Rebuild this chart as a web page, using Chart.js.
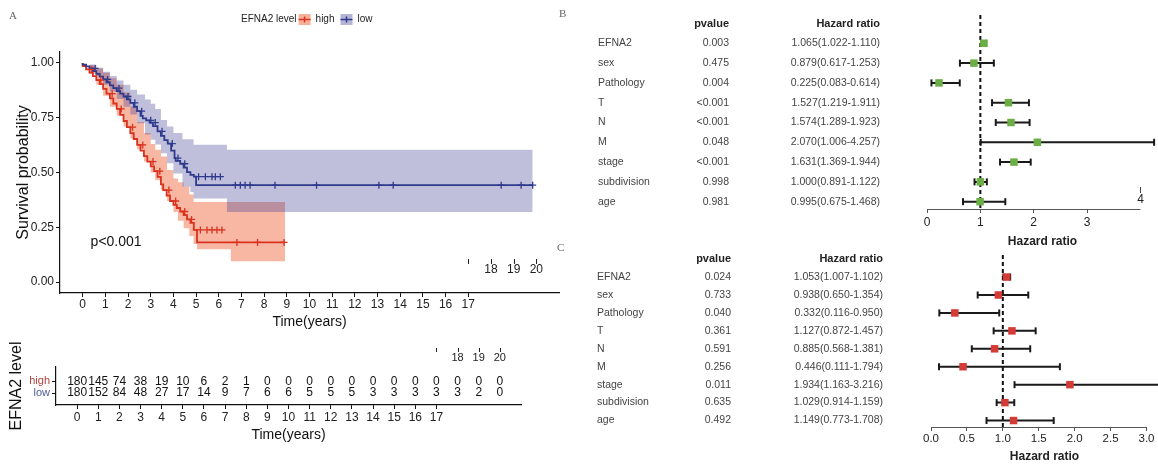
<!DOCTYPE html>
<html>
<head>
<meta charset="utf-8">
<title>EFNA2 survival and Cox regression</title>
<script src="https://cdn.jsdelivr.net/npm/chart.js@4.4.1/dist/chart.umd.min.js"></script>
<style>
  html, body { margin:0; padding:0; background:#fff; }
  body { width:1158px; height:464px; position:relative; overflow:hidden; }
  .pane { position:absolute; }
  .pane canvas { display:block; }
  .tag { position:absolute; font-family:"Liberation Serif","DejaVu Serif",serif; font-size:11px; color:#666; line-height:1; }
</style>
</head>
<body>
<div class="pane" style="left:0;top:0;width:570px;height:335px"><canvas id="km"></canvas></div>
<div class="pane" style="left:0;top:335px;width:570px;height:129px"><canvas id="risk"></canvas></div>
<div class="pane" style="left:560px;top:0;width:598px;height:250px"><canvas id="forestB"></canvas></div>
<div class="pane" style="left:560px;top:250px;width:598px;height:214px"><canvas id="forestC"></canvas></div>
<div class="tag" style="left:9px;top:10px">A</div>
<div class="tag" style="left:559px;top:8px">B</div>
<div class="tag" style="left:557px;top:242px">C</div>
<script>
// ================= DATA =================
// Kaplan-Meier step points [time (years), survival]
const HIGH_CURVE = [[0,1],[0.15,0.986],[0.3,0.971],[0.45,0.956],[0.6,0.94],[0.75,0.922],[0.9,0.903],[1.05,0.882],[1.2,0.86],[1.35,0.838],[1.5,0.815],[1.65,0.79],[1.8,0.763],[1.95,0.735],[2.1,0.707],[2.25,0.68],[2.4,0.653],[2.55,0.626],[2.7,0.6],[2.85,0.575],[3.0,0.55],[3.15,0.528],[3.3,0.506],[3.45,0.48],[3.55,0.446],[3.7,0.42],[3.85,0.395],[4.0,0.37],[4.15,0.352],[4.3,0.338],[4.45,0.322],[4.6,0.305],[4.75,0.286],[4.9,0.27],[5.04,0.238],[6.53,0.181],[8.92,0.181]];
const LOW_CURVE = [[0,1],[0.15,0.992],[0.3,0.984],[0.45,0.975],[0.6,0.963],[0.75,0.95],[0.9,0.938],[1.05,0.925],[1.2,0.912],[1.35,0.898],[1.5,0.885],[1.65,0.872],[1.8,0.86],[1.95,0.847],[2.1,0.834],[2.25,0.818],[2.4,0.8],[2.55,0.78],[2.65,0.758],[2.8,0.747],[2.95,0.738],[3.1,0.728],[3.3,0.712],[3.45,0.688],[3.6,0.667],[3.75,0.648],[3.9,0.632],[4.05,0.6],[4.1,0.566],[4.3,0.553],[4.45,0.54],[4.6,0.522],[4.75,0.502],[4.9,0.489],[5.0,0.481],[6.36,0.442],[19.84,0.442]];
// censored observations [time, survival]
const HIGH_CENSOR = [[0.4,0.971],[0.8,0.922],[1.3,0.86],[1.7,0.79],[2.2,0.707],[2.65,0.626],[3.1,0.55],[3.4,0.506],[3.8,0.42],[4.1,0.37],[4.5,0.322],[4.8,0.286],[5.19,0.238],[5.48,0.238],[5.7,0.238],[5.92,0.238],[6.14,0.238],[6.8,0.181],[7.71,0.181],[8.88,0.181]];
const LOW_CENSOR = [[0.55,0.975],[1.1,0.925],[1.6,0.885],[2.0,0.847],[2.3,0.818],[2.6,0.78],[3.0,0.738],[3.2,0.728],[3.5,0.688],[3.95,0.632],[4.2,0.566],[4.5,0.54],[5.11,0.481],[5.41,0.481],[5.7,0.481],[5.85,0.481],[6.07,0.481],[6.73,0.442],[6.95,0.442],[7.16,0.442],[7.38,0.442],[8.48,0.442],[10.31,0.442],[13.06,0.442],[13.69,0.442],[18.45,0.442],[19.33,0.442],[19.84,0.442]];
// 95% confidence bands (step values, shared times per group)
const HIGH_BAND_T  = [0,0.3,0.6,0.9,1.2,1.5,1.8,2.1,2.4,2.7,3.0,3.2,3.45,3.72,4.0,4.2,4.45,4.7,4.89,5.04,6.53,8.92];
const HIGH_BAND_UP = [1,0.99,0.975,0.955,0.93,0.9,0.865,0.8,0.73,0.68,0.63,0.604,0.573,0.511,0.473,0.455,0.435,0.4,0.365,0.365,0.365,0.365];
const HIGH_BAND_LO = [1,0.95,0.9,0.85,0.8,0.76,0.71,0.655,0.605,0.55,0.5,0.465,0.42,0.37,0.32,0.28,0.245,0.21,0.174,0.15,0.095,0.095];
const LOW_BAND_T   = [0,0.3,0.6,0.9,1.2,1.5,1.8,2.1,2.4,2.75,3.0,3.2,3.45,3.72,4.0,4.4,4.75,4.89,6.36,19.84];
const LOW_BAND_UP  = [1,0.993,0.978,0.96,0.94,0.92,0.9,0.878,0.856,0.833,0.814,0.79,0.74,0.71,0.68,0.652,0.652,0.627,0.604,0.604];
const LOW_BAND_LO  = [1,0.97,0.94,0.9,0.87,0.835,0.8,0.765,0.725,0.674,0.65,0.628,0.588,0.542,0.496,0.435,0.411,0.381,0.32,0.32];

const KM_X_TICKS = [0,1,2,3,4,5,6,7,8,9,10,11,12,13,14,15,16,17];
const KM_X_TICKS_SHIFTED = [18,19,20];
const SHIFTED_MARKS = [17,18,19,20];
const KM_Y_TICKS = [0,0.25,0.5,0.75,1];
const P_LABEL = 'p<0.001';
const LEGEND_TITLE = 'EFNA2 level';
const GROUPS = ['high','low'];

// numbers at risk
const RISK_TIMES = [0,1,2,3,4,5,6,7,8,9,10,11,12,13,14,15,16,17,18,19,20];
const RISK_HIGH  = [180,145,74,38,19,10,6,2,1,0,0,0,0,0,0,0,0,0,0,0,0];
const RISK_LOW   = [180,152,84,48,27,17,14,9,7,6,6,5,5,5,3,3,3,3,3,2,0];

// Cox regression
const FOREST_VARS = ['EFNA2','sex','Pathology','T','N','M','stage','subdivision','age'];
const B_PVAL = ['0.003','0.475','0.004','<0.001','<0.001','0.048','<0.001','0.998','0.981'];
const B_HR   = [1.065,0.879,0.225,1.527,1.574,2.070,1.631,1.000,0.995];
const B_LO   = [1.022,0.617,0.083,1.219,1.289,1.006,1.369,0.891,0.675];
const B_HI   = [1.110,1.253,0.614,1.911,1.923,4.257,1.944,1.122,1.468];
const C_PVAL = ['0.024','0.733','0.040','0.361','0.591','0.256','0.011','0.635','0.492'];
const C_HR   = [1.053,0.938,0.332,1.127,0.885,0.446,1.934,1.029,1.149];
const C_LO   = [1.007,0.650,0.116,0.872,0.568,0.111,1.163,0.914,0.773];
const C_HI   = [1.102,1.354,0.950,1.457,1.381,1.794,3.216,1.159,1.708];
const B_X_TICKS = [0,1,2,3];
const B_X_SHIFTED = [4];
const C_X_TICKS = [0,0.5,1,1.5,2,2.5,3];
const REF_HR = 1;

// ================= STYLE =================
const F = '"Liberation Sans", Arial, Helvetica, sans-serif';
Chart.defaults.font.family = F;
Chart.defaults.color = '#222';
const HIGH_COLOR = '#D9321F';
const LOW_COLOR = '#2E3A8C';
const HIGH_BAND_COLOR = 'rgba(238,95,50,0.45)';
const LOW_BAND_COLOR = 'rgba(60,60,150,0.33)';
const HIGH_KEY_FILL = '#F6B098';
const LOW_KEY_FILL = '#B5B5D7';
const HIGH_LABEL_COLOR = '#B5403A';
const LOW_LABEL_COLOR = '#4B5C9C';
const GREEN_BOX = '#6BAE45';
const RED_BOX = '#D43A36';

const pts = a => a.map(p => ({x: p[0], y: p[1]}));
// step-function corners for confidence bands (same values, explicit vertical edges)
function stepBand(T, V) {
  const out = [];
  T.forEach((t, i) => {
    if (i > 0) out.push({x: t, y: V[i - 1]});
    out.push({x: t, y: V[i]});
  });
  return out;
}

function drawShifted(ctx, x, markTop, markBottom, labelY, size) {
  ctx.strokeStyle = '#222'; ctx.lineWidth = 1;
  SHIFTED_MARKS.forEach(v => {
    const px = Math.round(x.getPixelForValue(v)) + 0.5;
    ctx.beginPath(); ctx.moveTo(px, markTop); ctx.lineTo(px, markBottom); ctx.stroke();
  });
  ctx.font = size + 'px ' + F; ctx.fillStyle = '#222';
  ctx.textAlign = 'center'; ctx.textBaseline = 'middle';
  KM_X_TICKS_SHIFTED.forEach(v => ctx.fillText(String(v), x.getPixelForValue(v), labelY));
}

const baseOpts = {
  animation: false, responsive: true, maintainAspectRatio: false, devicePixelRatio: 1, events: [],
};

// ================= KM CHART =================
const kmExtras = {
  id: 'kmExtras',
  afterDraw(chart) {
    const {ctx, scales: {x, y}} = chart;
    ctx.save();
    ctx.font = '14px ' + F; ctx.fillStyle = '#111';
    ctx.textAlign = 'left'; ctx.textBaseline = 'middle';
    ctx.fillText(P_LABEL, x.getPixelForValue(0.35), y.getPixelForValue(0.181));
    drawShifted(ctx, x, 259, 264, 270, 12);
    // legend
    ctx.font = '10px ' + F; ctx.fillStyle = '#222'; ctx.textAlign = 'left'; ctx.textBaseline = 'middle';
    const cy = 19.5;
    let cx = 241;
    ctx.fillText(LEGEND_TITLE, cx, cy);
    cx += ctx.measureText(LEGEND_TITLE).width + 2;
    [[HIGH_KEY_FILL, HIGH_COLOR], [LOW_KEY_FILL, LOW_COLOR]].forEach((k, i) => {
      ctx.fillStyle = k[0]; ctx.fillRect(cx, 14, 12, 11);
      ctx.strokeStyle = k[1]; ctx.lineWidth = 1.5;
      ctx.beginPath(); ctx.moveTo(cx, cy); ctx.lineTo(cx + 12, cy);
      ctx.moveTo(cx + 6, cy - 3); ctx.lineTo(cx + 6, cy + 3); ctx.stroke();
      cx += 17;
      ctx.fillStyle = '#222';
      ctx.fillText(GROUPS[i], cx, cy);
      cx += ctx.measureText(GROUPS[i]).width + 6;
    });
    ctx.restore();
  }
};

const bandEdge = {borderColor: 'rgba(0,0,0,0)', borderWidth: 1, pointRadius: 0};
new Chart(document.getElementById('km'), {
  type: 'line',
  data: {
    datasets: [
      Object.assign({data: stepBand(LOW_BAND_T, LOW_BAND_UP), fill: '+1', backgroundColor: LOW_BAND_COLOR, order: 19}, bandEdge),
      Object.assign({data: stepBand(LOW_BAND_T, LOW_BAND_LO), fill: false, order: 19}, bandEdge),
      Object.assign({data: stepBand(HIGH_BAND_T, HIGH_BAND_UP), fill: '+1', backgroundColor: HIGH_BAND_COLOR, order: 20}, bandEdge),
      Object.assign({data: stepBand(HIGH_BAND_T, HIGH_BAND_LO), fill: false, order: 20}, bandEdge),
      {data: pts(HIGH_CURVE), stepped: 'after', borderColor: HIGH_COLOR, borderWidth: 1.8, pointRadius: 0, fill: false, order: 6},
      {data: pts(LOW_CURVE), stepped: 'after', borderColor: LOW_COLOR, borderWidth: 1.8, pointRadius: 0, fill: false, order: 5},
      {data: pts(HIGH_CENSOR), showLine: false, pointStyle: 'cross', pointRadius: 3.5, pointBorderWidth: 1.3, pointBorderColor: HIGH_COLOR, borderColor: HIGH_COLOR, order: 3},
      {data: pts(LOW_CENSOR), showLine: false, pointStyle: 'cross', pointRadius: 3.5, pointBorderWidth: 1.3, pointBorderColor: LOW_COLOR, borderColor: LOW_COLOR, order: 2}
    ]
  },
  options: Object.assign({}, baseOpts, {
    layout: {padding: {top: 52, right: 11, left: 0, bottom: 0}, autoPadding: false},
    plugins: {legend: {display: false}, tooltip: {enabled: false}},
    scales: {
      x: {
        type: 'linear', min: -1, max: 21, offset: false,
        afterBuildTicks: s => { s.ticks = KM_X_TICKS.map(v => ({value: v})); },
        afterFit: s => { s.height = 42; },
        grid: {drawOnChartArea: false, drawTicks: true, tickLength: 4, color: '#111', lineWidth: 1},
        border: {display: true, color: '#111', width: 1.2},
        ticks: {autoSkip: false, maxRotation: 0, padding: 0, font: {size: 12}, color: '#222', callback: v => String(v)},
        title: {display: true, text: 'Time(years)', font: {size: 14}, color: '#111', padding: {top: 0, bottom: 4}}
      },
      y: {
        type: 'linear', min: -0.05, max: 1.05, offset: false,
        afterBuildTicks: s => { s.ticks = KM_Y_TICKS.map(v => ({value: v})); },
        afterFit: s => { s.width = 60; },
        grid: {drawOnChartArea: false, drawTicks: true, tickLength: 4, color: '#111', lineWidth: 1},
        border: {display: true, color: '#111', width: 1.2},
        ticks: {padding: 2, font: {size: 12}, color: '#222', callback: v => Number(v).toFixed(2)},
        title: {display: true, text: 'Survival probability', font: {size: 16}, color: '#111', padding: {top: 14, bottom: 0}}
      }
    }
  }),
  plugins: [kmExtras]
});

// ================= RISK TABLE =================
const riskExtras = {
  id: 'riskExtras',
  afterDraw(chart) {
    const {ctx, scales: {x, y}} = chart;
    ctx.save();
    ctx.font = '12px ' + F; ctx.fillStyle = '#111';
    ctx.textAlign = 'center'; ctx.textBaseline = 'middle';
    RISK_TIMES.forEach((t, i) => {
      ctx.fillText(String(RISK_HIGH[i]), x.getPixelForValue(t), y.getPixelForValue(1));
      ctx.fillText(String(RISK_LOW[i]), x.getPixelForValue(t), y.getPixelForValue(2));
    });
    drawShifted(ctx, x, 13, 17, 23, 11);
    ctx.restore();
  }
};

new Chart(document.getElementById('risk'), {
  type: 'scatter',
  data: {datasets: []},
  options: Object.assign({}, baseOpts, {
    layout: {padding: {top: 32, right: 49, left: 0, bottom: 0}, autoPadding: false},
    plugins: {legend: {display: false}, tooltip: {enabled: false}},
    scales: {
      x: {
        type: 'linear', min: -1, max: 21, offset: false,
        afterBuildTicks: s => { s.ticks = KM_X_TICKS.map(v => ({value: v})); },
        afterFit: s => { s.height = 59; },
        grid: {drawOnChartArea: false, drawTicks: true, tickLength: 4, color: '#111'},
        border: {display: true, color: '#111', width: 1.2},
        ticks: {autoSkip: false, maxRotation: 0, padding: 1, font: {size: 12}, color: '#222', callback: v => String(v)},
        title: {display: true, text: 'Time(years)', font: {size: 14}, color: '#111', padding: {top: 0, bottom: 20}}
      },
      y: {
        type: 'linear', min: -0.2, max: 3, reverse: true, offset: false,
        afterBuildTicks: s => { s.ticks = [1, 2].map(v => ({value: v})); },
        afterFit: s => { s.width = 56; },
        grid: {drawOnChartArea: false, drawTicks: true, tickLength: 4, color: '#111'},
        border: {display: true, color: '#111', width: 1.2},
        ticks: {padding: 2, font: {size: 11}, color: c => c.index === 0 ? HIGH_LABEL_COLOR : LOW_LABEL_COLOR, callback: (v, i) => GROUPS[i]},
        title: {display: true, text: 'EFNA2 level', font: {size: 16}, color: '#111', padding: {top: 7, bottom: 0}}
      }
    }
  }),
  plugins: [riskExtras]
});

// ================= FOREST PLOTS =================
function forest(id, cfg) {
  const whisker = [], caps = [];
  cfg.lo.forEach((lo, i) => {
    whisker.push({x: lo, y: i}, {x: cfg.hi[i], y: i}, {x: cfg.hi[i], y: null});
    caps.push({x: lo, y: i}, {x: cfg.hi[i], y: i});
  });
  const boxes = cfg.hr.map((h, i) => ({x: h, y: i}));
  const extras = {
    id: 'forestExtras',
    beforeDatasetsDraw(chart) {
      const {ctx, chartArea, scales: {x, y}} = chart;
      ctx.save();
      ctx.strokeStyle = '#111'; ctx.lineWidth = 2; ctx.setLineDash([4, 3]);
      const rx = x.getPixelForValue(REF_HR);
      ctx.beginPath(); ctx.moveTo(rx, chartArea.top); ctx.lineTo(rx, chartArea.bottom); ctx.stroke();
      ctx.setLineDash([]);
      ctx.strokeStyle = '#555'; ctx.lineWidth = 1.2;
      ctx.beginPath();
      ctx.moveTo(x.getPixelForValue(cfg.axisFrom), chartArea.bottom + 0.5);
      ctx.lineTo(x.getPixelForValue(cfg.axisTo), chartArea.bottom + 0.5);
      ctx.stroke();
      ctx.font = '12px ' + F; ctx.fillStyle = '#222'; ctx.textAlign = 'center'; ctx.textBaseline = 'middle';
      cfg.shifted.forEach(v => {
        const px = Math.round(x.getPixelForValue(v)) + 0.5;
        ctx.strokeStyle = '#444'; ctx.lineWidth = 1;
        ctx.beginPath(); ctx.moveTo(px, cfg.shiftMark[0]); ctx.lineTo(px, cfg.shiftMark[1]); ctx.stroke();
        ctx.fillText(String(v), px, cfg.shiftLabelY);
      });
      ctx.textBaseline = 'middle';
      const hy = y.getPixelForValue(-1);
      ctx.font = 'bold 11px ' + F; ctx.fillStyle = '#222';
      ctx.textAlign = 'right';
      ctx.fillText('pvalue', cfg.colP, hy);
      ctx.fillText('Hazard ratio', cfg.colHR, hy);
      ctx.font = '10.5px ' + F; ctx.fillStyle = '#444';
      FOREST_VARS.forEach((name, i) => {
        const py = y.getPixelForValue(i);
        ctx.textAlign = 'left';
        ctx.fillText(name, cfg.colName, py);
        ctx.textAlign = 'right';
        ctx.fillText(cfg.p[i], cfg.colP, py);
        ctx.fillText(cfg.hr[i].toFixed(3) + '(' + cfg.lo[i].toFixed(3) + '-' + cfg.hi[i].toFixed(3) + ')', cfg.colHR, py);
      });
      ctx.restore();
    }
  };
  new Chart(document.getElementById(id), {
    type: 'scatter',
    data: {
      datasets: [
        {data: boxes, pointStyle: 'rect', pointRadius: 5.3, pointBackgroundColor: cfg.color, backgroundColor: cfg.color, pointBorderWidth: 0, borderWidth: 0, order: 1},
        {data: caps, pointStyle: 'line', pointRotation: 90, pointRadius: 3.5, pointBorderColor: '#1a1a1a', borderColor: '#1a1a1a', pointBorderWidth: 2, order: 2},
        {data: whisker, showLine: true, spanGaps: false, borderColor: '#1a1a1a', borderWidth: 2, pointRadius: 0, order: 3}
      ]
    },
    options: Object.assign({}, baseOpts, {
      layout: {padding: {top: cfg.top, left: cfg.left, right: 0, bottom: 0}, autoPadding: false},
      plugins: {legend: {display: false}, tooltip: {enabled: false}},
      scales: {
        x: {
          type: 'linear', min: 0, max: cfg.xmax, offset: false,
          afterBuildTicks: s => { s.ticks = cfg.ticks.map(v => ({value: v})); },
          afterFit: s => { s.height = cfg.axisH; },
          grid: {drawOnChartArea: false, drawTicks: true, tickLength: 4, color: '#555', offset: false},
          border: {display: false},
          ticks: {autoSkip: false, maxRotation: 0, padding: cfg.tickPad, font: {size: cfg.tickSize}, color: '#222', callback: cfg.fmt},
          title: {display: true, text: 'Hazard ratio', font: {size: 12, weight: 'bold'}, color: '#222', padding: {top: 0, bottom: cfg.titlePad}}
        },
        y: {type: 'linear', display: false, reverse: true, min: cfg.ymin, max: cfg.ymax, offset: false, grid: {offset: false}}
      }
    }),
    plugins: [extras]
  });
}

forest('forestB', {
  hr: B_HR, lo: B_LO, hi: B_HI, p: B_PVAL, color: GREEN_BOX,
  ticks: B_X_TICKS, shifted: B_X_SHIFTED, shiftMark: [187, 193], shiftLabelY: 200,
  fmt: v => String(v), xmax: 4.33, axisFrom: 0, axisTo: 4,
  left: 367, top: 15, axisH: 41, ymin: -1.43, ymax: 8.37, tickPad: 2, tickSize: 12, titlePad: 1,
  colName: 38, colP: 169, colHR: 320
});
forest('forestC', {
  hr: C_HR, lo: C_LO, hi: C_HI, p: C_PVAL, color: RED_BOX,
  ticks: C_X_TICKS, shifted: [], shiftMark: [0, 0], shiftLabelY: 0,
  fmt: v => Number(v).toFixed(1), xmax: 3.16, axisFrom: 0, axisTo: 3,
  left: 371, top: 5, axisH: 37, ymin: -1.23, ymax: 8.36, tickPad: 1, tickSize: 11.5, titlePad: 0,
  colName: 37, colP: 171, colHR: 323
});
</script>
</body>
</html>
